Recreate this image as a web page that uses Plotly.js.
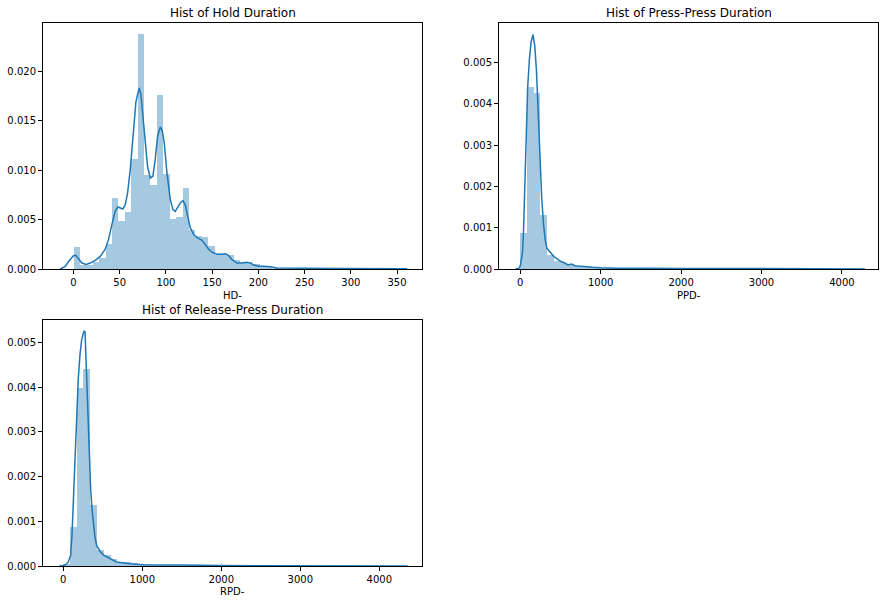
<!DOCTYPE html>
<html>
<head>
<meta charset="utf-8">
<script src="https://cdn.plot.ly/plotly-3.0.1.min.js"></script>
<style>html,body{margin:0;padding:0;background:#fff;}#chart{width:887px;height:604px;}</style>
</head>
<body>
<div id="chart"></div>
<script>
// ---------- Hold Duration (HD) ----------
const hdBinStart = 0;
const hdBinWidth = 6.94;
const hdBars = [0.00226, 0.0004, 0.00045, 0.0007, 0.0011, 0.00257, 0.00723, 0.0049, 0.00574, 0.0111,
  0.02385, 0.0095, 0.00848, 0.01767, 0.00966, 0.0051, 0.0053, 0.00824, 0.0040, 0.0033,
  0.0032, 0.0023, 0.0014, 0.0015, 0.0014, 0.0009, 0.0006, 0.0007, 0.0005, 0.0003,
  0.00025, 0.00015, 0.0001, 0.0001, 0.00008, 0.00006, 0.00005, 0.00005, 0.00004, 0.00004,
  0.00003, 0.00003, 0.00003, 0.00003, 0.00002, 0.00002, 0.00002, 0.00002, 0.00002, 0.00002];
const hdKdeX = [-14.4, -9, -4.3, 0, 2.5, 5.4, 9, 13.7, 18, 23.5, 28.9, 34.3, 37.9, 41.5, 45.1, 48, 50.5, 53.4, 56,
  58.5, 61.4, 65, 67.5, 69.3, 71.1, 72.9, 75.1, 77.6, 80.1, 83, 85.9, 88.4, 91, 93.9, 96, 98.2, 101.1,
  104.7, 107.6, 110.1, 112.6, 115.5, 118.4, 120.9, 123.5, 126.4, 130, 134.3, 139, 142.6, 146.2, 149.8,
  155.2, 160.6, 164.3, 167.9, 171.5, 176.9, 182.3, 187.7, 191.3, 194.9, 200.4, 205.8, 213, 220.2, 234.7,
  252.7, 289, 325, 361];
const hdKdeY = [0, 0.00027, 0.00088, 0.00135, 0.00139, 0.00108, 0.0006, 0.00047, 0.0006, 0.00088, 0.00128, 0.002,
  0.003, 0.0045, 0.00584, 0.00628, 0.00618, 0.00608, 0.0065, 0.0077, 0.01007, 0.01412, 0.0169, 0.01767,
  0.01834, 0.0177, 0.01547, 0.01243, 0.0104, 0.00922, 0.0094, 0.0111, 0.01345, 0.0144, 0.014, 0.01277,
  0.00973, 0.00703, 0.00601, 0.00584, 0.00618, 0.00669, 0.00693, 0.0065, 0.00534, 0.00416, 0.00348,
  0.00314, 0.0029, 0.00247, 0.002, 0.0017, 0.0015, 0.0015, 0.00155, 0.00135, 0.00095, 0.0006, 0.0006,
  0.00068, 0.0006, 0.0004, 0.00027, 0.00027, 0.00024, 0.0001, 0.00007, 0.00007, 0.00006, 0.00004, 0.00003];
const hdTicks = [0, 50, 100, 150, 200, 250, 300, 350];

// ---------- Press-Press Duration (PPD) ----------
const ppdBinStart = -3;
const ppdBinWidth = 84;
const ppdBars = [0.00088, 0.0044, 0.00425, 0.0013, 0.00035, 0.00019, 0.00014, 0.0001, 0.00007, 0.00005,
  0.00004, 0.00003, 0.00002, 0.00002, 0.00002, 0.00002, 0.00001, 0.00001, 0.00001, 0.00001,
  0.00001, 0.00001, 0.00001, 0.00001, 0.00001, 0.00001, 0.00001, 0.00001, 0.00001, 0.00001,
  0.00001, 0.00001, 0.00001, 0.00001, 0.00001, 0.00001, 0.00001, 0.00001, 0.00001, 0.00001,
  0.00001, 0.00001, 0.00001, 0.00001, 0.00001, 0.00001, 0.00001, 0.00001, 0.00001, 0.00001];
const ppdKdeX = [-60, -16.5, 0, 27, 40, 58, 70.5, 91, 114, 135, 157.5, 180, 201, 224, 244.5, 266, 288, 310, 331.5,
  375, 418.5, 462, 505.5, 549, 592.5, 636, 679.5, 723, 800, 900, 1000, 1200, 1600, 2000, 3000, 4000, 4290];
const ppdKdeY = [0, 0.00002, 0.00008, 0.0004, 0.0009, 0.00197, 0.0028, 0.00437, 0.0051, 0.0055, 0.00567, 0.0054,
  0.0048, 0.00357, 0.0027, 0.00173, 0.0011, 0.0007, 0.0005, 0.0004, 0.0003, 0.00024, 0.00018, 0.00015,
  0.0001, 0.00012, 0.00008, 0.00007, 0.00005, 0.00004, 0.00003, 0.00002, 0.00002, 0.00001, 0.00001,
  0.00001, 0];
const ppdTicks = [0, 1000, 2000, 3000, 4000];

// ---------- Release-Press Duration (RPD) ----------
const rpdBinStart = -3;
const rpdBinWidth = 86;
const rpdBars = [0.00005, 0.00087, 0.00398, 0.0044, 0.00136, 0.00035, 0.00025, 0.00016, 0.0001, 0.00008,
  0.00006, 0.00005, 0.00004, 0.00003, 0.00003, 0.00002, 0.00002, 0.00002, 0.00002, 0.00002,
  0.00001, 0.00001, 0.00001, 0.00001, 0.00001, 0.00001, 0.00001, 0.00001, 0.00001, 0.00001,
  0.00001, 0.00001, 0.00001, 0.00001, 0.00001, 0.00001, 0.00001, 0.00001, 0.00001, 0.00001,
  0.00001, 0.00001, 0.00001, 0.00001, 0.00001, 0.00001, 0.00001, 0.00001, 0.00001, 0.00001];
const rpdKdeX = [-50, 0, 40, 63, 93, 110, 127, 150, 169, 190, 211, 232, 253, 265, 275, 287, 300, 316, 330, 346,
  362, 380, 400, 422, 464, 506, 570, 620, 675, 760, 844, 1013, 1200, 1500, 2000, 2500, 3000, 3500, 4000, 4360];
const rpdKdeY = [0, 0.00001, 0.00004, 0.00009, 0.00024, 0.0007, 0.00143, 0.0025, 0.00337, 0.0042, 0.00472, 0.00505,
  0.0052, 0.00525, 0.00524, 0.0046, 0.0039, 0.00315, 0.0024, 0.00173, 0.0013, 0.00091, 0.00065, 0.00046,
  0.00033, 0.00025, 0.00018, 0.00014, 0.00009, 0.00007, 0.00005, 0.00003, 0.00002, 0.00002, 0.00001,
  0.00001, 0.00001, 0.00001, 0.000005, 0];
const rpdTicks = [0, 1000, 2000, 3000, 4000];

const yTicksHD = [0, 0.005, 0.010, 0.015, 0.020];
const yTicksSmall = [0, 0.001, 0.002, 0.003, 0.004, 0.005];

const titles = ['Hist of Hold Duration', 'Hist of Press-Press Duration', 'Hist of Release-Press Duration'];
const xLabels = ['HD-', 'PPD-', 'RPD-'];

// ---------- build ----------
const barColor = 'rgba(31,119,180,0.4)';
const lineColor = '#1f77b4';

function centers(start, width, n) {
  const c = [];
  for (let i = 0; i < n; i++) c.push(start + width * (i + 0.5));
  return c;
}

const traces = [
  {type: 'bar', x: centers(hdBinStart, hdBinWidth, hdBars.length), y: hdBars, width: hdBinWidth,
   marker: {color: barColor, line: {width: 0}}, xaxis: 'x', yaxis: 'y', hoverinfo: 'skip'},
  {type: 'scatter', mode: 'lines', x: hdKdeX, y: hdKdeY, line: {color: lineColor, width: 1.5},
   xaxis: 'x', yaxis: 'y'},
  {type: 'bar', x: centers(ppdBinStart, ppdBinWidth, ppdBars.length), y: ppdBars, width: ppdBinWidth,
   marker: {color: barColor, line: {width: 0}}, xaxis: 'x2', yaxis: 'y2', hoverinfo: 'skip'},
  {type: 'scatter', mode: 'lines', x: ppdKdeX, y: ppdKdeY, line: {color: lineColor, width: 1.5},
   xaxis: 'x2', yaxis: 'y2'},
  {type: 'bar', x: centers(rpdBinStart, rpdBinWidth, rpdBars.length), y: rpdBars, width: rpdBinWidth,
   marker: {color: barColor, line: {width: 0}}, xaxis: 'x3', yaxis: 'y3', hoverinfo: 'skip'},
  {type: 'scatter', mode: 'lines', x: rpdKdeX, y: rpdKdeY, line: {color: lineColor, width: 1.5},
   xaxis: 'x3', yaxis: 'y3'}
];

const W = 887, H = 604;
const tickFont = {family: 'DejaVu Sans', size: 10, color: '#000'};
function ax(extra) {
  return Object.assign({
    showline: true, mirror: true, linecolor: '#000', linewidth: 1,
    ticks: 'outside', ticklen: 4, tickwidth: 1, tickcolor: '#000',
    showgrid: false, zeroline: false, tickfont: tickFont, fixedrange: true
  }, extra);
}

const dx1 = [43 / W, 422 / W], dx2 = [499 / W, 878 / W];
const dyTop = [1 - 269 / H, 1 - 22.7 / H], dyBot = [1 - 566 / H, 1 - 320 / H];

const layout = {
  width: W, height: H,
  margin: {l: 0, r: 0, t: 0, b: 0},
  paper_bgcolor: '#fff', plot_bgcolor: '#fff',
  showlegend: false, bargap: 0,
  font: {family: 'DejaVu Sans', color: '#000'},
  xaxis: ax({domain: dx1, range: [-33, 377], anchor: 'y', tickvals: hdTicks}),
  yaxis: ax({domain: dyTop, range: [0, 0.02495], anchor: 'x', tickvals: yTicksHD, tickformat: '.3f'}),
  xaxis2: ax({domain: dx2, range: [-265, 4449], anchor: 'y2', tickvals: ppdTicks}),
  yaxis2: ax({domain: dyTop, range: [0, 0.00596], anchor: 'x2', tickvals: yTicksSmall, tickformat: '.3f'}),
  xaxis3: ax({domain: dx1, range: [-257, 4541], anchor: 'y3', tickvals: rpdTicks}),
  yaxis3: ax({domain: dyBot, range: [0, 0.0055], anchor: 'x3', tickvals: yTicksSmall, tickformat: '.3f'}),
  annotations: [
    {text: titles[0], xref: 'paper', yref: 'paper', x: (dx1[0] + dx1[1]) / 2, y: 1 - 13 / H, showarrow: false,
     xanchor: 'center', yanchor: 'middle', font: {size: 12, family: 'DejaVu Sans', color: '#000'}},
    {text: titles[1], xref: 'paper', yref: 'paper', x: (dx2[0] + dx2[1]) / 2, y: 1 - 13 / H, showarrow: false,
     xanchor: 'center', yanchor: 'middle', font: {size: 12, family: 'DejaVu Sans', color: '#000'}},
    {text: titles[2], xref: 'paper', yref: 'paper', x: (dx1[0] + dx1[1]) / 2, y: 1 - 310 / H, showarrow: false,
     xanchor: 'center', yanchor: 'middle', font: {size: 12, family: 'DejaVu Sans', color: '#000'}},
    {text: xLabels[0], xref: 'paper', yref: 'paper', x: (dx1[0] + dx1[1]) / 2, y: 1 - 295 / H, showarrow: false,
     xanchor: 'center', yanchor: 'middle', font: {size: 10, family: 'DejaVu Sans', color: '#000'}},
    {text: xLabels[1], xref: 'paper', yref: 'paper', x: (dx2[0] + dx2[1]) / 2, y: 1 - 295 / H, showarrow: false,
     xanchor: 'center', yanchor: 'middle', font: {size: 10, family: 'DejaVu Sans', color: '#000'}},
    {text: xLabels[2], xref: 'paper', yref: 'paper', x: (dx1[0] + dx1[1]) / 2, y: 1 - 591 / H, showarrow: false,
     xanchor: 'center', yanchor: 'middle', font: {size: 10, family: 'DejaVu Sans', color: '#000'}}
  ]
};

Plotly.newPlot('chart', traces, layout, {displayModeBar: false, staticPlot: true});
</script>
</body>
</html>
